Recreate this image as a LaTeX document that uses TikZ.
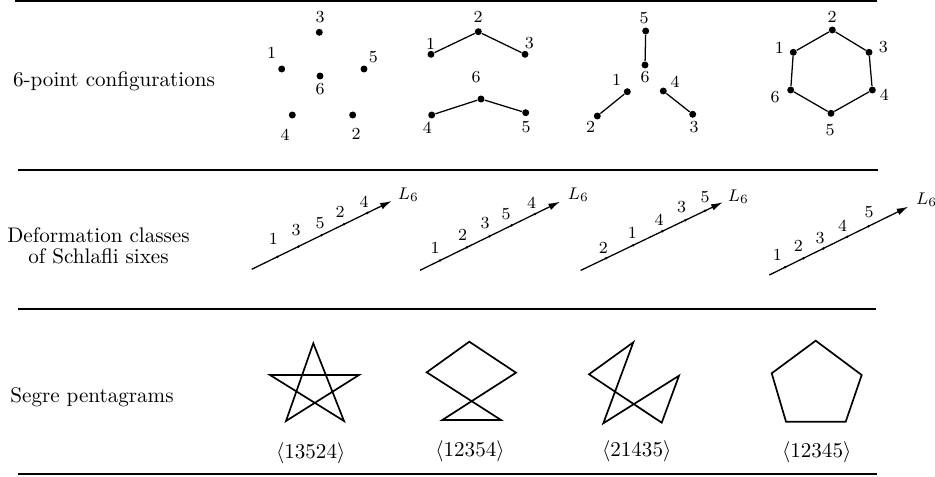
\documentclass[tikz,border=0pt]{standalone}
\usetikzlibrary{arrows.meta,calc}
\begin{document}
\begin{tikzpicture}[x=0.474pt,y=-0.474pt,
  rule/.style={line width=1pt},
  bigdot/.style={circle,fill,inner sep=0pt,minimum size=3.3pt},
  smalldot/.style={circle,fill,inner sep=0pt,minimum size=1.3pt},
  lab/.style={font=\footnotesize,inner sep=0pt},
  seg/.style={line width=0.6pt},
  axis/.style={line width=0.6pt,-{Latex[length=5.5pt,width=3.2pt]}},
  pent/.style={line width=0.8pt,line join=miter},
  rowlab/.style={inner sep=0pt},
  plab/.style={inner sep=0pt}]
\useasboundingbox (0,0) rectangle (935,476);

% rules
\coordinate (r1a) at (15,1);   \coordinate (r1b) at (877,1);
\coordinate (r2a) at (18,170); \coordinate (r2b) at (878,170);
\coordinate (r3a) at (18,309); \coordinate (r3b) at (876,309);
\coordinate (r4a) at (18,474); \coordinate (r4b) at (877,474);
\draw[rule] (r1a) -- (r1b);
\draw[rule] (r2a) -- (r2b);
\draw[rule] (r3a) -- (r3b);
\draw[rule] (r4a) -- (r4b);

% row labels
\node[rowlab] (t1) at (114,81.5) {6-point configurations};
\node[rowlab] (t2a) at (98.5,235) {Deformation classes};
\node[rowlab] (t2b) at (98.5,256) {of Schlafli sixes};
\node[rowlab] (t3) at (92,397) {Segre pentagrams};

% ---------- configuration 1 ----------
\node[bigdot] (a3) at (319.3,32.3) {};
\node[bigdot] (a1) at (281.7,69) {};
\node[bigdot] (a5) at (364,69) {};
\node[bigdot] (a6) at (320,76) {};
\node[bigdot] (a4) at (292.3,115) {};
\node[bigdot] (a2) at (352.7,115) {};
\node[lab] (la3) at (320,17) {3};
\node[lab] (la1) at (271.7,53.3) {1};
\node[lab] (la5) at (373.3,57.3) {5};
\node[lab] (la6) at (320,89.3) {6};
\node[lab] (la4) at (285,135) {4};
\node[lab] (la2) at (356,134) {2};

% ---------- configuration 2 ----------
\node[bigdot] (b1) at (431,54.3) {};
\node[bigdot] (b2) at (478.3,31.7) {};
\node[bigdot] (b3) at (525,54.3) {};
\node[bigdot] (b4) at (431.7,115) {};
\node[bigdot] (b6) at (481,99) {};
\node[bigdot] (b5) at (525.7,112.7) {};
\draw[seg] (b1) -- (b2) -- (b3);
\draw[seg] (b4) -- (b6) -- (b5);
\node[lab] (lb1) at (430.7,44) {1};
\node[lab] (lb2) at (478,17) {2};
\node[lab] (lb3) at (529.3,42.7) {3};
\node[lab] (lb6) at (476,76.7) {6};
\node[lab] (lb4) at (427.3,128.3) {4};
\node[lab] (lb5) at (526,127.3) {5};

% ---------- configuration 3 ----------
\node[bigdot] (c5) at (645.7,31) {};
\node[bigdot] (c6) at (645,65) {};
\node[bigdot] (c1) at (627.3,91.7) {};
\node[bigdot] (c2) at (597.3,116) {};
\node[bigdot] (c4) at (663.3,91) {};
\node[bigdot] (c3) at (692.7,114.3) {};
\draw[seg] (c5) -- (c6);
\draw[seg] (c1) -- (c2);
\draw[seg] (c4) -- (c3);
\node[lab] (lc5) at (644,18.3) {5};
\node[lab] (lc6) at (645,77.3) {6};
\node[lab] (lc1) at (616.7,80) {1};
\node[lab] (lc2) at (590.7,126.7) {2};
\node[lab] (lc4) at (675,81.7) {4};
\node[lab] (lc3) at (694,126.7) {3};

% ---------- configuration 4 ----------
\node[bigdot] (d2) at (832.3,30) {};
\node[bigdot] (d1) at (793.3,52.3) {};
\node[bigdot] (d3) at (869,52.3) {};
\node[bigdot] (d6) at (790.7,90) {};
\node[bigdot] (d4) at (872.3,90) {};
\node[bigdot] (d5) at (831,113.3) {};
\draw[seg] (d2) -- (d3) -- (d4) -- (d5) -- (d6) -- (d1) -- (d2);
\node[lab] (ld2) at (832,17) {2};
\node[lab] (ld1) at (779.3,48.3) {1};
\node[lab] (ld3) at (883.3,47.3) {3};
\node[lab] (ld6) at (775,97.3) {6};
\node[lab] (ld4) at (884.3,95) {4};
\node[lab] (ld5) at (830,130) {5};

% ---------- line 1 ----------
\coordinate (s1) at (251.7,269.3); \coordinate (e1) at (391.7,201);
\draw[axis] (s1) -- (e1);
\node[smalldot] (p11) at ($(s1)!0.183!(e1)$) {};
\node[smalldot] (p13) at ($(s1)!0.333!(e1)$) {};
\node[smalldot] (p15) at ($(s1)!0.5!(e1)$) {};
\node[smalldot] (p12) at ($(s1)!0.659!(e1)$) {};
\node[smalldot] (p14) at ($(s1)!0.826!(e1)$) {};
\node[lab] (q11) at (273.3,239.3) {1};
\node[lab] (q13) at (296,230) {3};
\node[lab] (q15) at (320,222.7) {5};
\node[lab] (q12) at (340,211.7) {2};
\node[lab] (q14) at (364,201.7) {4};
\node[lab] (L1) at (408.3,195) {$L_6$};

% ---------- line 2 ----------
\coordinate (s2) at (420,270.3); \coordinate (e2) at (560,201.7);
\draw[axis] (s2) -- (e2);
\node[smalldot] (p21) at ($(s2)!0.143!(e2)$) {};
\node[smalldot] (p22) at ($(s2)!0.334!(e2)$) {};
\node[smalldot] (p23) at ($(s2)!0.495!(e2)$) {};
\node[smalldot] (p25) at ($(s2)!0.655!(e2)$) {};
\node[smalldot] (p24) at ($(s2)!0.821!(e2)$) {};
\node[lab] (q21) at (435,248.3) {1};
\node[lab] (q22) at (462.7,235) {2};
\node[lab] (q23) at (485,222.7) {3};
\node[lab] (q25) at (506,214) {5};
\node[lab] (q24) at (531.7,203.3) {4};
\node[lab] (L2) at (578.3,195) {$L_6$};

% ---------- line 3 ----------
\coordinate (s3) at (580.5,270.5); \coordinate (e3) at (722.7,202.3);
\draw[axis] (s3) -- (e3);
\node[smalldot] (p32) at ($(s3)!0.179!(e3)$) {};
\node[smalldot] (p31) at ($(s3)!0.371!(e3)$) {};
\node[smalldot] (p34) at ($(s3)!0.575!(e3)$) {};
\node[smalldot] (p33) at ($(s3)!0.737!(e3)$) {};
\node[smalldot] (p35) at ($(s3)!0.876!(e3)$) {};
\node[lab] (q32) at (603.3,248.3) {2};
\node[lab] (q31) at (632.3,233.3) {1};
\node[lab] (q34) at (659,220) {4};
\node[lab] (q33) at (681.7,207.3) {3};
\node[lab] (q35) at (705,196.7) {5};
\node[lab] (L3) at (738.3,196.7) {$L_6$};

% ---------- line 4 ----------
\coordinate (s4) at (769.3,275); \coordinate (e4) at (908.3,206.7);
\draw[axis] (s4) -- (e4);
\node[smalldot] (p41) at ($(s4)!0.113!(e4)$) {};
\node[smalldot] (p42) at ($(s4)!0.245!(e4)$) {};
\node[smalldot] (p43) at ($(s4)!0.388!(e4)$) {};
\node[smalldot] (p44) at ($(s4)!0.561!(e4)$) {};
\node[smalldot] (p45) at ($(s4)!0.712!(e4)$) {};
\node[lab] (q41) at (777.3,255) {1};
\node[lab] (q42) at (798.3,246) {2};
\node[lab] (q43) at (820,238.3) {3};
\node[lab] (q44) at (842.7,226) {4};
\node[lab] (q45) at (869,211.7) {5};
\node[lab] (L4) at (926.7,200) {$L_6$};

% ---------- pentagram 13524 ----------
\coordinate (ua) at (313.3,343.3);
\coordinate (ub) at (270,375);
\coordinate (uc) at (359,375);
\coordinate (ud) at (286,421);
\coordinate (ue) at (344,421);
\draw[pent] (ua) -- (ud) -- (uc) -- (ub) -- (ue) -- cycle;
\node[plab] (pl1) at (310.7,453.3) {$\langle 13524\rangle$};

% ---------- pentagram 12354 ----------
\coordinate (va) at (469.3,341.7);
\coordinate (vb) at (426.7,372.3);
\coordinate (vc) at (516,372.7);
\coordinate (vd) at (442.3,420);
\coordinate (ve) at (501,420);
\draw[pent] (va) -- (vc) -- (vd) -- (ve) -- (vb) -- cycle;
\node[plab] (pl2) at (470,451.7) {$\langle 12354\rangle$};

% ---------- pentagram 21435 ----------
\coordinate (wa) at (633.3,342.3);
\coordinate (wb) at (589,374.3);
\coordinate (wc) at (679,375.7);
\coordinate (wd) at (603.3,423.3);
\coordinate (we) at (661.7,422.7);
\draw[pent] (wb) -- (wa) -- (wd) -- (wc) -- (we) -- cycle;
\node[plab] (pl3) at (636.7,451.7) {$\langle 21435\rangle$};

% ---------- pentagon 12345 ----------
\coordinate (xa) at (815.7,340.7);
\coordinate (xb) at (771.7,373.3);
\coordinate (xc) at (861.7,375);
\coordinate (xd) at (786,421.7);
\coordinate (xe) at (845.7,421.7);
\draw[pent] (xa) -- (xc) -- (xe) -- (xd) -- (xb) -- cycle;
\node[plab] (pl4) at (816.7,452.3) {$\langle 12345\rangle$};
\end{tikzpicture}
\end{document}
